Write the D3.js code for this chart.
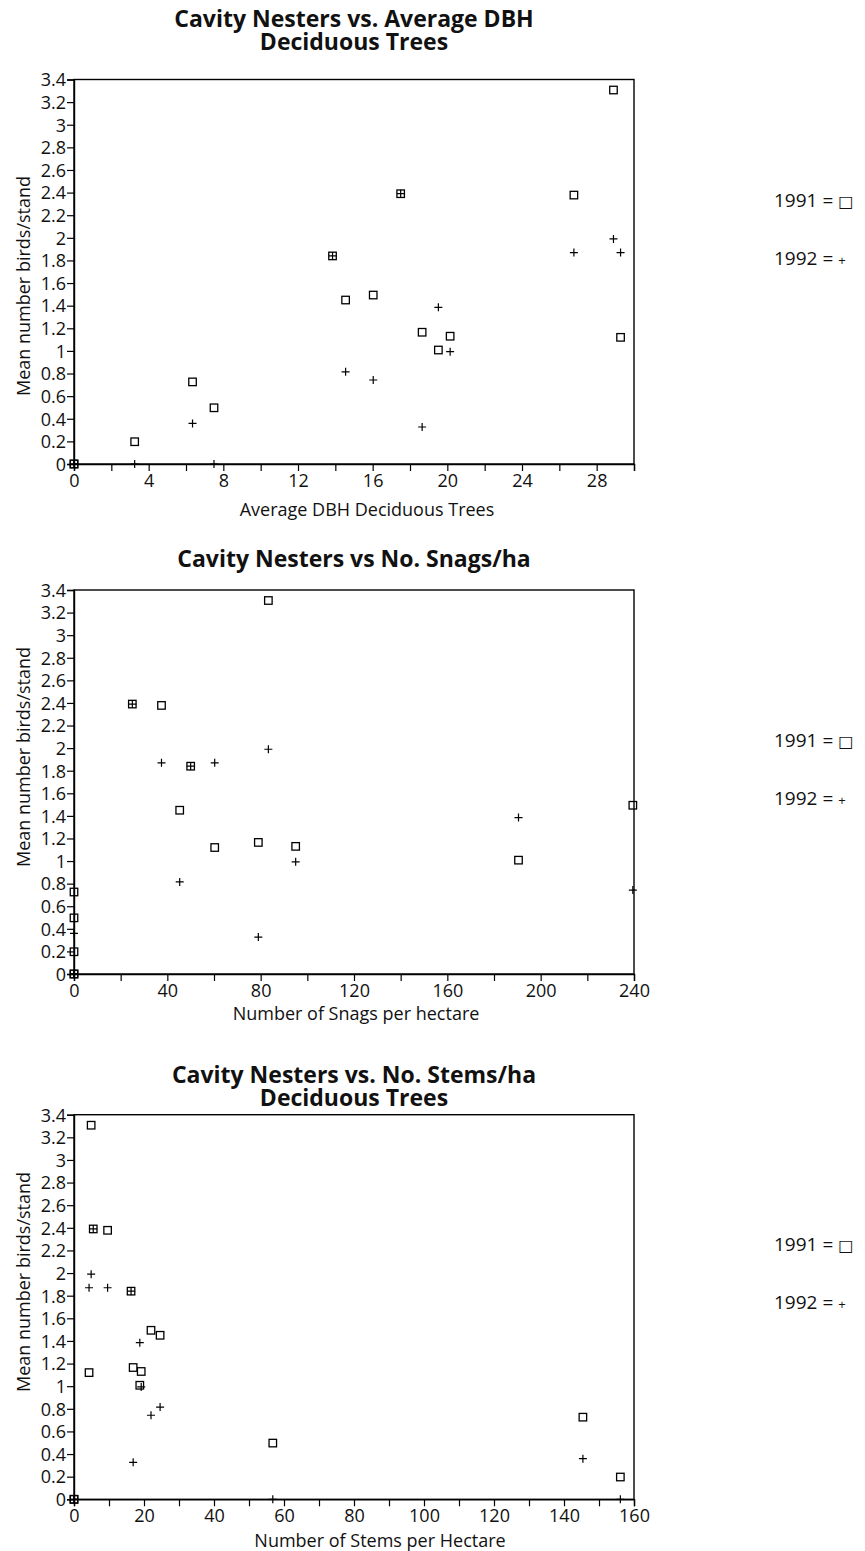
<!DOCTYPE html>
<html>
<head>
<meta charset="utf-8">
<script src="https://cdn.jsdelivr.net/npm/d3@7/dist/d3.min.js"></script>
<style>
  html, body { margin: 0; padding: 0; background: #fff; }
  svg { display: block; }
  text { font-family: "Open Sans", "Noto Sans", sans-serif; fill: #111; }
</style>
</head>
<body>
<svg id="chart" width="865" height="1551"></svg>
<script>
// ---- Data (one entry per stand) ----
const stands     = ["A1", "A2", "B", "C", "D", "E", "F", "G", "H", "I", "J", "K", "L", "M", "N"];
const avgDBH     = [0, 0, 3.25, 6.35, 7.5, 13.85, 14.55, 16.03, 17.5, 18.65, 19.52, 20.15, 26.78, 28.9, 29.28];
const snagsPerHa = [0, 0, 0, 0, 0, 50, 45.3, 239.5, 25, 79, 190.5, 95, 37.5, 83.3, 60.3];
const stemsPerHa = [0, 0, 156.1, 145.4, 56.8, 16.3, 24.6, 22, 5.5, 16.9, 18.8, 19.2, 9.6, 4.9, 4.3];
const birds1991  = [0, 0, 0.197, 0.726, 0.497, 1.84, 1.45, 1.494, 2.39, 1.165, 1.008, 1.13, 2.378, 3.307, 1.12];
const birds1992  = [0, 0, 0, 0.359, 0, 1.84, 0.815, 0.743, 2.39, 0.327, 1.385, 0.993, 1.87, 1.99, 1.87];

const yTicks = [0, 0.2, 0.4, 0.6, 0.8, 1, 1.2, 1.4, 1.6, 1.8, 2, 2.2, 2.4, 2.6, 2.8, 3, 3.2, 3.4];
const xTicksDBH   = [0, 2, 4, 6, 8, 10, 12, 14, 16, 18, 20, 22, 24, 26, 28, 30];
const xLabelsDBH  = [0, 4, 8, 12, 16, 20, 24, 28];
const xTicksSnag  = [0, 20, 40, 60, 80, 100, 120, 140, 160, 180, 200, 220, 240];
const xLabelsSnag = [0, 40, 80, 120, 160, 200, 240];
const xTicksStem  = [0, 10, 20, 30, 40, 50, 60, 70, 80, 90, 100, 110, 120, 130, 140, 150, 160];
const xLabelsStem = [0, 20, 40, 60, 80, 100, 120, 140, 160];

const titles = [
  ["Cavity Nesters vs. Average DBH", "Deciduous Trees"],
  ["Cavity Nesters vs No. Snags/ha"],
  ["Cavity Nesters vs. No. Stems/ha", "Deciduous Trees"]
];
const xTitles = ["Average DBH Deciduous Trees", "Number of Snags per hectare", "Number of Stems per Hectare"];
const yTitle = "Mean number birds/stand";
const legendLabels = ["1991 = ", "1992 = "];
const legendSymbols = ["\u25A1", "+"];

// ---- Layout (styles / positions only) ----
const layouts = [
  { xv: avgDBH, xDom: [0, 30], ticks: xTicksDBH, labels: xLabelsDBH, top: 79.5, bottom: 464,
    titleY: 27, xLabelY: 516, yLabelC: 286, xLabelX: 367, legendY: [207, 265] },
  { xv: snagsPerHa, xDom: [0, 240], ticks: xTicksSnag, labels: xLabelsSnag, top: 590, bottom: 974,
    titleY: 567, xLabelY: 1020, yLabelC: 757, xLabelX: 356, legendY: [747, 805] },
  { xv: stemsPerHa, xDom: [0, 160], ticks: xTicksStem, labels: xLabelsStem, top: 1114.7, bottom: 1499.3,
    titleY: 1083, xLabelY: 1547, yLabelC: 1282, xLabelX: 380, legendY: [1251, 1309] }
];
const left = 74, right = 634;

const svg = d3.select("#chart");

layouts.forEach((L, i) => {
  const x = d3.scaleLinear().domain(L.xDom).range([left, right]);
  const y = d3.scaleLinear().domain([0, 3.4]).range([L.bottom, L.top]);
  const g = svg.append("g");

  // frame
  g.append("rect")
    .attr("x", left).attr("y", L.top)
    .attr("width", right - left).attr("height", L.bottom - L.top)
    .attr("fill", "none").attr("stroke", "#000").attr("stroke-width", 1.4);

  // y axis
  const yAxis = d3.axisLeft(y).tickValues(yTicks).tickSize(7).tickPadding(1)
    .tickFormat(d => d3.format("~g")(d));
  const ya = g.append("g").attr("transform", `translate(${left},0)`).call(yAxis);
  ya.select(".domain").attr("stroke", "#000").attr("stroke-width", 1.4);
  ya.selectAll(".tick line").attr("stroke", "#000").attr("stroke-width", 1.2);
  ya.selectAll(".tick text").attr("font-size", 18).attr("font-family", "Open Sans").attr("fill", "#111")
    .attr("dy", "0.35em");

  // x axis
  const xAxis = d3.axisBottom(x).tickValues(L.ticks).tickSize(7).tickPadding(3)
    .tickFormat(d => L.labels.includes(d) ? String(d) : "");
  const xa = g.append("g").attr("transform", `translate(0,${L.bottom})`).call(xAxis);
  xa.select(".domain").attr("stroke", "#000").attr("stroke-width", 1.4);
  xa.selectAll(".tick line").attr("stroke", "#000").attr("stroke-width", 1.2);
  xa.selectAll(".tick text").attr("font-size", 18).attr("font-family", "Open Sans").attr("fill", "#111");

  // title (one text element, lines as tspans)
  const tt = g.append("text").attr("x", (left + right) / 2).attr("y", L.titleY)
    .attr("text-anchor", "middle").attr("font-size", 23).attr("font-weight", "bold");
  titles[i].forEach((t, k) => {
    tt.append("tspan").attr("x", (left + right) / 2).attr("dy", k === 0 ? 0 : 23).text(t);
  });

  // axis titles
  g.append("text").attr("x", L.xLabelX).attr("y", L.xLabelY)
    .attr("text-anchor", "middle").attr("font-size", 18).text(xTitles[i]);
  g.append("text").attr("transform", `translate(30,${L.yLabelC}) rotate(-90)`)
    .attr("text-anchor", "middle").attr("font-size", 18).text(yTitle);

  // 1991 squares
  const s = 7.5;
  g.append("g").selectAll("rect").data(stands.map((st, j) => ({ xv: L.xv[j], yv: birds1991[j] })))
    .join("rect")
    .attr("x", d => x(d.xv) - s / 2).attr("y", d => y(d.yv) - s / 2)
    .attr("width", s).attr("height", s)
    .attr("fill", "none").attr("stroke", "#000").attr("stroke-width", 1.3);

  // 1992 plus signs
  const p = 4;
  g.append("g").selectAll("path").data(stands.map((st, j) => ({ xv: L.xv[j], yv: birds1992[j] })))
    .join("path")
    .attr("d", d => { const cx = x(d.xv), cy = y(d.yv);
      return `M${cx - p},${cy}H${cx + p}M${cx},${cy - p}V${cy + p}`; })
    .attr("fill", "none").attr("stroke", "#000").attr("stroke-width", 1.2);

  // legend
  legendLabels.forEach((lab, k) => {
    const t = g.append("text").attr("x", 774).attr("y", L.legendY[k]).attr("font-size", 19);
    t.append("tspan").text(lab);
    t.append("tspan").attr("font-family", k === 0 ? "DejaVu Sans" : "Open Sans")
      .attr("font-size", k === 0 ? 16 : 13).text(legendSymbols[k]);
  });
});
</script>
</body>
</html>
